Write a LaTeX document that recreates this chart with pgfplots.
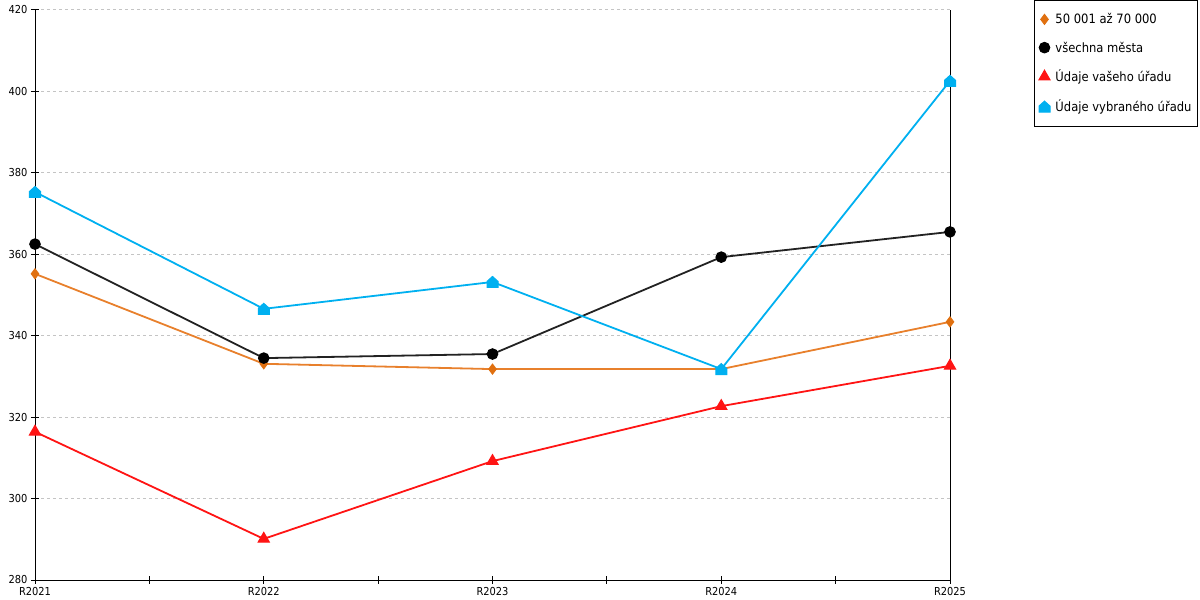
\documentclass[border=0pt]{standalone}
\usepackage{pgfplots}
\pgfplotsset{compat=1.18}
\usepackage{fontspec}
\setmainfont{DejaVu Sans Condensed}
\definecolor{corange}{HTML}{E8802C}
\definecolor{corangem}{HTML}{E07010}
\definecolor{cblue}{HTML}{00B0F0}
\definecolor{cred}{HTML}{FF1414}
\definecolor{cblack}{HTML}{222222}
\definecolor{cgrid}{HTML}{C4C4C4}
\pgfdeclareplotmark{house}{%
 \pgfpathmoveto{\pgfqpoint{-\pgfplotmarksize}{-\pgfplotmarksize}}%
 \pgfpathlineto{\pgfqpoint{\pgfplotmarksize}{-\pgfplotmarksize}}%
 \pgfpathlineto{\pgfqpoint{\pgfplotmarksize}{0.1\pgfplotmarksize}}%
 \pgfpathlineto{\pgfqpoint{0pt}{\pgfplotmarksize}}%
 \pgfpathlineto{\pgfqpoint{-\pgfplotmarksize}{0.1\pgfplotmarksize}}%
 \pgfpathclose
 \pgfusepathqfillstroke}
\begin{document}
\begin{tikzpicture}
\path[use as bounding box] (-35bp,-20bp) rectangle (1165bp,580bp);
\begin{axis}[
  scale only axis,
  width=915bp, height=570bp,
  xmin=0, xmax=4, ymin=280, ymax=420,
  clip=false,
  axis x line*=bottom, axis y line*=left,
  axis line style={-, black, line width=1bp},
  xtick={0,1,2,3,4},
  xticklabels={R2021,R2022,R2023,R2024,R2025},
  minor x tick num=1,
  ytick={280,300,...,420},
  tick align=center,
  major tick length=8bp, minor tick length=8bp,
  tick style={black, line width=1bp},
  ymajorgrids,
  major grid style={cgrid, line width=1bp, dash pattern=on 3bp off 3bp},
  extra x ticks={4},
  extra x tick labels={},
  extra x tick style={grid=major, major grid style={black, solid, line width=1bp}, major tick length=0bp},
  tick label style={font=\fontsize{11}{13}\selectfont},
  /pgf/number format/assume math mode=true,
  legend style={at={(1.0918,1.0175)}, anchor=north west, draw=black, line width=1bp,
    font=\fontsize{12.9}{15}\selectfont, row sep=12.5bp, inner xsep=4bp, inner ysep=11bp,
    cells={anchor=west}},
  legend cell align=left,
  legend image code/.code={\path[draw=none, fill=none] (-6bp,0bp) -- (9bp,0bp); \draw[#1, only marks] plot coordinates {(0bp,0bp)};},
]
\addplot[corange, line width=1.8bp, mark=diamond*, mark size=5bp, mark options={corangem, fill=corangem, solid, line width=1bp}]
  coordinates {(0,355.2) (1,333.1) (2,331.8) (3,331.8) (4,343.4)};
\addlegendentry{50 001 až 70 000}
\addplot[cblack, line width=1.8bp, mark=*, mark size=5.3bp, mark options={black, fill=black, solid, line width=1bp}]
  coordinates {(0,362.5) (1,334.5) (2,335.5) (3,359.3) (4,365.5)};
\addlegendentry{všechna města}
\addplot[cred, line width=1.8bp, mark=triangle*, mark size=6.5bp, mark options={cred, fill=cred, solid, line width=1bp}]
  coordinates {(0,316.4) (1,290.1) (2,309.2) (3,322.7) (4,332.6)};
\addlegendentry{Údaje vašeho úřadu}
\addplot[cblue, line width=1.8bp, mark=house, mark size=5.5bp, mark options={cblue, fill=cblue, solid, line width=1bp}]
  coordinates {(0,375.3) (1,346.6) (2,353.2) (3,331.8) (4,402.6)};
\addlegendentry{Údaje vybraného úřadu}
\end{axis}
\end{tikzpicture}
\end{document}
